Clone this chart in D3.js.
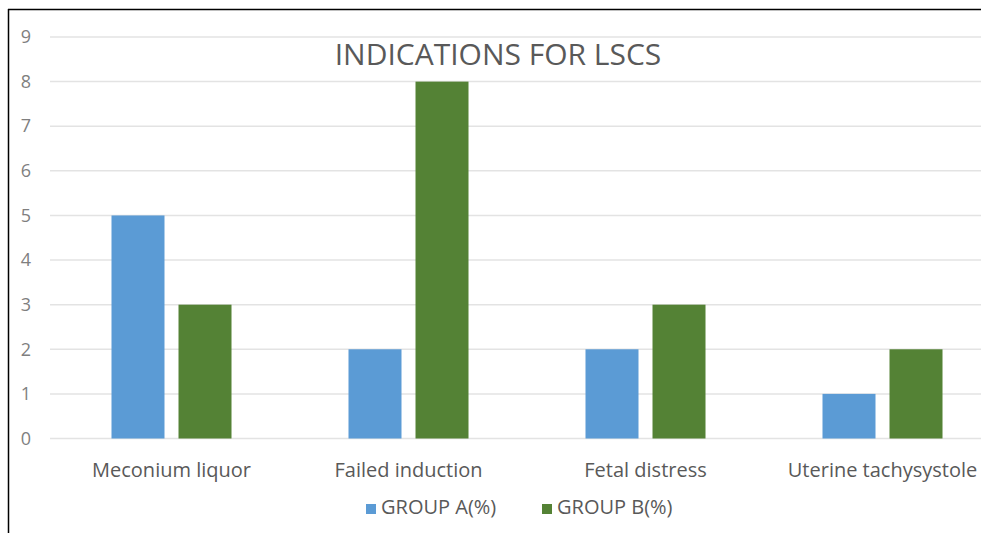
<!DOCTYPE html>
<html>
<head>
<meta charset="utf-8">
<script src="https://cdn.jsdelivr.net/npm/d3@7"></script>
<style>
  body { margin: 0; background: #fff; }
  svg text { font-family: "Open Sans", "Liberation Sans", sans-serif; }
</style>
</head>
<body>
<svg id="chart" width="981" height="533"></svg>
<script>
// data
const categories = ['Meconium liquor', 'Failed induction', 'Fetal distress', 'Uterine tachysystole']
const seriesNames = ['GROUP A(%)', 'GROUP B(%)']
const groupA = [5, 2, 2, 1]
const groupB = [3, 8, 3, 2]
const yTicks = [0, 1, 2, 3, 4, 5, 6, 7, 8, 9]
const colors = ['#5B9BD5', '#548235']

let svg = d3.select('#chart')

// frame (image is cropped, only left and top edges visible)
svg.append('line').attr('x1', 8.5).attr('x2', 8.5).attr('y1', 9).attr('y2', 533).attr('stroke', '#000').attr('stroke-width', 1.5)
svg.append('line').attr('x1', 8).attr('x2', 981).attr('y1', 9.5).attr('y2', 9.5).attr('stroke', '#000').attr('stroke-width', 1.5)

let pad_left = 53
let xScale = d3.scaleBand().domain(categories).range([pad_left, 1001])
let yScale = d3.scaleLinear().domain([0, 9]).range([438.5, 37])

// gridlines
svg.append('g').selectAll('line').data(yTicks).join('line')
   .attr('x1', 50).attr('x2', 981)
   .attr('y1', d => yScale(d)).attr('y2', d => yScale(d))
   .attr('stroke', '#e3e3e3').attr('stroke-width', 1.5)

// y labels
let yAxis = d3.axisLeft(yScale).tickValues(yTicks).tickSize(0).tickPadding(0)
let yg = svg.append('g').attr('transform', 'translate(31,0)').call(yAxis)
yg.select('.domain').remove()
yg.selectAll('text').attr('fill', '#7f7f7f').style('font-size', '18px')

// bars
let inner = d3.scaleBand().domain(seriesNames).range([0, xScale.bandwidth()]).paddingInner(0.209).paddingOuter(0.873)
let rows = categories.map((c, i) => ({cat: c, vals: [groupA[i], groupB[i]]}))
let groups = svg.append('g').selectAll('g').data(rows).join('g')
   .attr('transform', d => 'translate(' + xScale(d.cat) + ',0)')
groups.selectAll('rect').data(d => d.vals.map((v, j) => ({name: seriesNames[j], v: v, j: j}))).join('rect')
   .attr('x', d => inner(d.name))
   .attr('width', inner.bandwidth())
   .attr('y', d => yScale(d.v))
   .attr('height', d => yScale(0) - yScale(d.v))
   .attr('fill', d => colors[d.j])

// category labels
let xAxis = d3.axisBottom(xScale).tickSize(0).tickPadding(0)
let xg = svg.append('g').attr('transform', 'translate(0,463)').call(xAxis)
xg.select('.domain').remove()
xg.selectAll('text').attr('fill', '#595959').style('font-size', '20px')

// title
svg.append('text').text('INDICATIONS FOR LSCS').attr('x', 498).attr('y', 65)
   .attr('text-anchor', 'middle').attr('fill', '#595959').style('font-size', '30px')

// legend
let legendX = [366, 542]
let lg = svg.append('g').selectAll('g').data(seriesNames).join('g')
   .attr('transform', (d, i) => 'translate(' + legendX[i] + ',514)')
lg.append('rect').attr('y', -10).attr('width', 10).attr('height', 10).attr('fill', (d, i) => colors[i])
lg.append('text').text(d => d).attr('x', 15).attr('y', 0).attr('fill', '#595959').style('font-size', '20px')
</script>
</body>
</html>
